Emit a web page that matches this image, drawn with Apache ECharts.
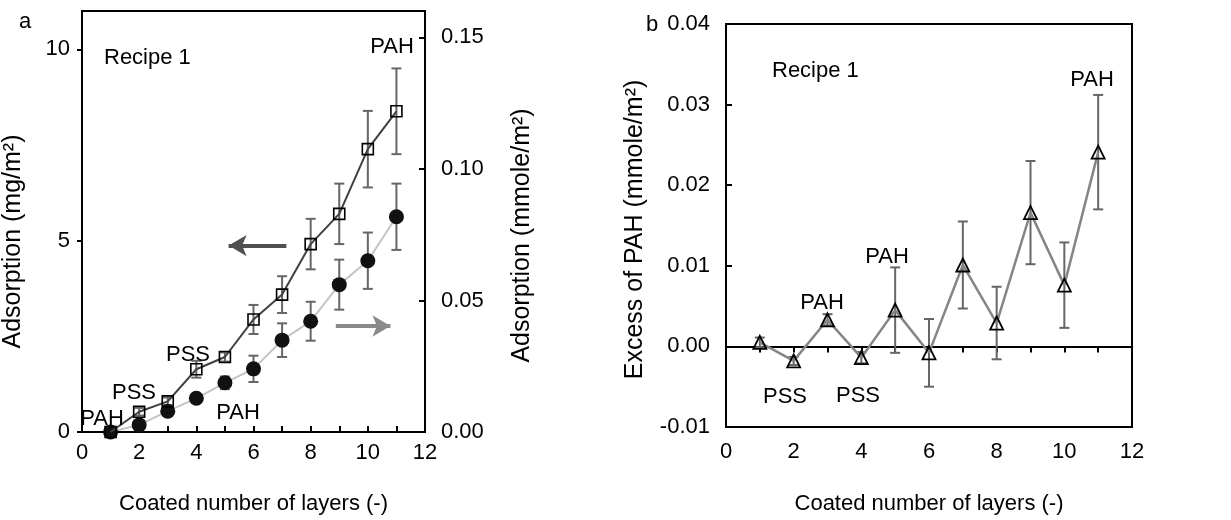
<!DOCTYPE html>
<html>
<head>
<meta charset="utf-8">
<script src="https://cdn.jsdelivr.net/npm/echarts@6/dist/echarts.min.js"></script>
<style>
  html, body { margin: 0; padding: 0; background: #fff; }
  #chart { width: 1231px; height: 520px; }
</style>
</head>
<body>
<div id="chart"></div>
<script>
// layer numbers (x) shared by both panels
var layers = [1, 2, 3, 4, 5, 6, 7, 8, 9, 10, 11];

// panel a, squares: adsorption in mg/m2 (left axis)
var massMean = [0, 0.53, 0.8, 1.64, 1.96, 2.94, 3.59, 4.91, 5.7, 7.39, 8.38];
var massErr = [0, 0.1, 0.1, 0.22, 0.12, 0.38, 0.48, 0.66, 0.79, 1.0, 1.12];

// panel a, circles: adsorption in mmole/m2 (right axis)
var moleMean = [0, 0.0027, 0.0079, 0.0128, 0.0187, 0.024, 0.0349, 0.0421, 0.056, 0.0651, 0.0818];
var moleErr = [0, 0.001, 0.001, 0.001, 0.0024, 0.005, 0.0064, 0.0074, 0.0095, 0.0107, 0.0126];

// panel b, triangles: excess of PAH in mmole/m2
var excessMean = [0.0005, -0.0018, 0.0033, -0.0014, 0.0045, -0.0008, 0.0101, 0.0029, 0.0166, 0.0076, 0.0241];
var excessErr = [0.0006, 0.0005, 0.0007, 0.0007, 0.0053, 0.0042, 0.0054, 0.0045, 0.0064, 0.0053, 0.0071];

var FONT = "'Liberation Sans', Arial, sans-serif";

function pairs(ys) {
  return layers.map(function (x, i) { return [x, ys[i]]; });
}

function ranges(ys, errs) {
  return layers.map(function (x, i) { return [x, ys[i] - errs[i], ys[i] + errs[i]]; });
}

function errorBar(params, api) {
  var x = api.value(0), lo = api.value(1), hi = api.value(2);
  if (hi === lo) return null;
  var top = api.coord([x, hi]);
  var bot = api.coord([x, lo]);
  var hw = 5;
  var st = { stroke: "#666", lineWidth: 2 };
  return {
    type: "group",
    children: [
      { type: "line", shape: { x1: top[0], y1: top[1], x2: bot[0], y2: bot[1] }, style: st },
      { type: "line", shape: { x1: top[0] - hw, y1: top[1], x2: top[0] + hw, y2: top[1] }, style: st },
      { type: "line", shape: { x1: bot[0] - hw, y1: bot[1], x2: bot[0] + hw, y2: bot[1] }, style: st }
    ]
  };
}

function label(text, x, y, align) {
  return {
    type: "text", x: x, y: y, silent: true, z: 100,
    style: {
      text: text, font: "22px " + FONT, fill: "#000",
      textAlign: align || "center", textVerticalAlign: "middle"
    }
  };
}

var textStyle = { color: "#000", fontSize: 22, fontFamily: FONT };
var axisLine = { show: true, onZero: false, lineStyle: { color: "#000", width: 2 } };

function nameStyle(shift) {
  return { color: "#000", fontSize: 25, fontFamily: FONT, padding: [0, shift, 0, 0] };
}

var chart = echarts.init(document.getElementById("chart"), null, { renderer: "canvas" });

chart.setOption({
  animation: false,
  backgroundColor: "#fff",
  textStyle: { fontFamily: FONT },
  grid: [
    { left: 79, top: 11, width: 346, height: 433, show: true, borderColor: "#000", borderWidth: 2, backgroundColor: "transparent" },
    { left: 726, top: 24, width: 406, height: 410, show: true, borderColor: "#000", borderWidth: 2, backgroundColor: "transparent" }
  ],
  xAxis: [
    {
      type: "value", gridIndex: 0, min: 0, max: 12, interval: 2,
      name: "Coated number of layers (-)", nameLocation: "middle", nameGap: 61, nameTextStyle: textStyle,
      axisLine: axisLine,
      axisTick: { show: true, inside: true, length: 6, lineStyle: { color: "#000", width: 2 } },
      minorTick: { show: true, splitNumber: 2, length: 6, lineStyle: { color: "#000", width: 2 } },
      axisLabel: { margin: 10, color: "#000", fontSize: 22, fontFamily: FONT },
      splitLine: { show: false }
    },
    {
      type: "value", gridIndex: 1, min: 0, max: 12, interval: 2,
      name: "Coated number of layers (-)", nameLocation: "middle", nameGap: 66, nameTextStyle: textStyle,
      axisLine: axisLine,
      axisTick: { show: false },
      axisLabel: { margin: 14, color: "#000", fontSize: 22, fontFamily: FONT },
      splitLine: { show: false }
    },
    {
      // zero line of panel b with its ticks
      type: "value", gridIndex: 1, min: 0, max: 12, interval: 2,
      axisLine: { show: true, onZero: true, lineStyle: { color: "#000", width: 2 } },
      axisTick: { show: true, inside: true, length: 6, lineStyle: { color: "#000", width: 2 } },
      minorTick: { show: true, splitNumber: 2, length: 6, lineStyle: { color: "#000", width: 2 } },
      axisLabel: { show: false },
      splitLine: { show: false }
    }
  ],
  yAxis: [
    {
      type: "value", gridIndex: 0, min: 0, max: 11, interval: 5,
      name: "Adsorption (mg/m²)", nameLocation: "middle", nameGap: 56, nameTextStyle: nameStyle(40),
      axisLine: axisLine,
      axisTick: { show: true, inside: false, length: 5, lineStyle: { color: "#000", width: 2 } },
      axisLabel: { margin: 12, color: "#000", fontSize: 22, fontFamily: FONT, showMaxLabel: false },
      splitLine: { show: false }
    },
    {
      type: "value", gridIndex: 0, position: "right", min: 0, max: 0.16, interval: 0.05,
      name: "Adsorption (mmole/m²)", nameLocation: "middle", nameGap: 85, nameTextStyle: nameStyle(28),
      axisLine: axisLine,
      axisTick: { show: true, inside: true, length: 6, lineStyle: { color: "#000", width: 2 } },
      axisLabel: {
        margin: 16, color: "#000", fontSize: 22, fontFamily: FONT, showMaxLabel: false,
        formatter: function (v) { return v.toFixed(2); }
      },
      splitLine: { show: false }
    },
    {
      type: "value", gridIndex: 1, min: -0.01, max: 0.04, interval: 0.01,
      name: "Excess of PAH (mmole/m²)", nameLocation: "middle", nameGap: 78, nameTextStyle: nameStyle(8),
      axisLine: axisLine,
      axisTick: { show: true, inside: true, length: 6, lineStyle: { color: "#000", width: 2 } },
      axisLabel: {
        margin: 16, color: "#000", fontSize: 22, fontFamily: FONT,
        formatter: function (v) { return v.toFixed(2); }
      },
      splitLine: { show: false }
    }
  ],
  series: [
    {
      type: "custom", xAxisIndex: 0, yAxisIndex: 0, renderItem: errorBar,
      encode: { x: 0, y: [1, 2] }, data: ranges(massMean, massErr), z: 2, silent: true
    },
    {
      type: "custom", xAxisIndex: 0, yAxisIndex: 1, renderItem: errorBar,
      encode: { x: 0, y: [1, 2] }, data: ranges(moleMean, moleErr), z: 2, silent: true
    },
    {
      type: "line", xAxisIndex: 0, yAxisIndex: 1, data: pairs(moleMean), z: 3,
      symbol: "circle", symbolSize: 15, showAllSymbol: true,
      lineStyle: { color: "#c4c4c4", width: 2 },
      itemStyle: { color: "#111", borderColor: "#111", borderWidth: 0 },
      markLine: {
        silent: true, symbol: ["none", "arrow"], symbolSize: [16, 18], label: { show: false },
        lineStyle: { color: "#8a8a8a", width: 4, type: "solid" },
        data: [[{ coord: [8.88, 0.0403] }, { coord: [10.79, 0.0403] }]]
      }
    },
    {
      type: "line", xAxisIndex: 0, yAxisIndex: 0, data: pairs(massMean), z: 4,
      symbol: "rect", symbolSize: 11, showAllSymbol: true,
      lineStyle: { color: "#404040", width: 2 },
      itemStyle: { color: "rgba(0,0,0,0)", borderColor: "#000", borderWidth: 1.6 },
      markLine: {
        silent: true, symbol: ["none", "arrow"], symbolSize: [16, 18], label: { show: false },
        lineStyle: { color: "#505050", width: 4, type: "solid" },
        data: [[{ coord: [7.15, 4.87] }, { coord: [5.13, 4.87] }]]
      }
    },
    {
      type: "custom", xAxisIndex: 1, yAxisIndex: 2, renderItem: errorBar,
      encode: { x: 0, y: [1, 2] }, data: ranges(excessMean, excessErr), z: 2, silent: true
    },
    {
      type: "line", xAxisIndex: 1, yAxisIndex: 2, data: pairs(excessMean), z: 4,
      symbol: "triangle", symbolSize: 13, showAllSymbol: true,
      lineStyle: { color: "#858585", width: 2.5 },
      itemStyle: { color: "rgba(0,0,0,0)", borderColor: "#000", borderWidth: 1.8 }
    }
  ],
  graphic: [
    label("a", 25, 22),
    label("Recipe 1", 104, 58, "left"),
    label("PAH", 102, 419),
    label("PSS", 134, 393),
    label("PSS", 188, 355),
    label("PAH", 238, 413),
    label("PAH", 392, 47),
    label("b", 652, 25),
    label("Recipe 1", 772, 71, "left"),
    label("PAH", 1092, 80),
    label("PAH", 887, 257),
    label("PAH", 822, 303),
    label("PSS", 785, 397),
    label("PSS", 858, 396)
  ]
});
</script>
</body>
</html>
